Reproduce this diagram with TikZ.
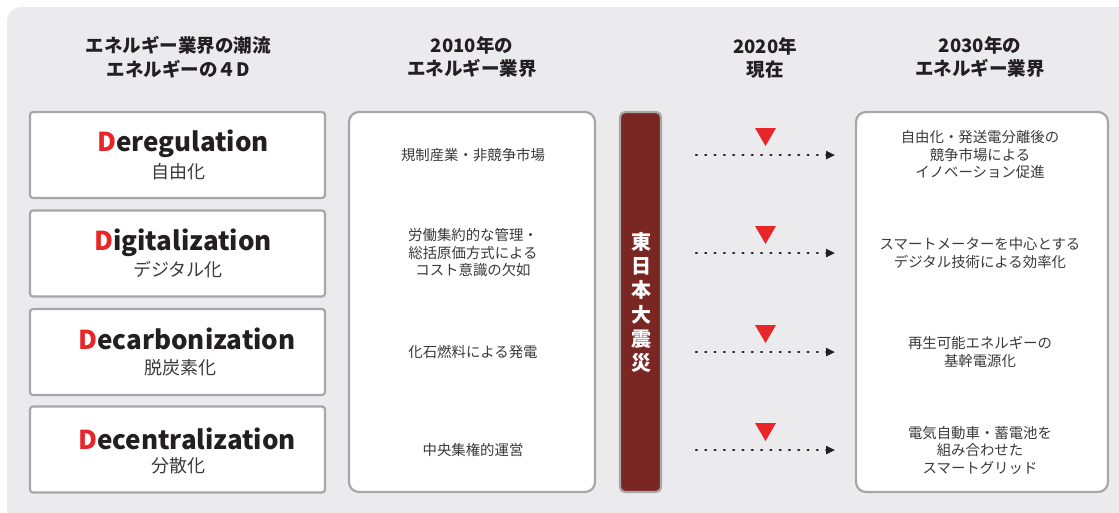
\documentclass[tikz,border=0pt]{standalone}
\usepackage{fontspec}
\setmainfont{Noto Sans CJK JP}
\usetikzlibrary{arrows.meta}
\definecolor{bgc}{HTML}{EBEBED}
\definecolor{bordc}{HTML}{A7A7A9}
\definecolor{txt}{HTML}{231F20}
\definecolor{subt}{HTML}{3A3A3C}
\definecolor{dred}{HTML}{E8262A}
\definecolor{barc}{HTML}{7A2623}
\begin{document}
\begin{tikzpicture}[x=1pt,y=-1pt,
  dbox/.style={draw=bordc,line width=2.2pt,fill=white,rounded corners=3pt,inner sep=0pt,minimum width=295pt,minimum height=86pt},
  pbox/.style={draw=bordc,line width=2.2pt,fill=white,rounded corners=10pt,inner sep=0pt,minimum height=380pt},
  head/.style={font=\fontsize{18.5}{23.5}\selectfont\bfseries,text=txt,align=center,inner sep=0pt},
  eng/.style={font=\fontsize{26}{30}\selectfont\bfseries,text=txt,inner sep=0pt},
  jsub/.style={font=\fontsize{18}{20}\selectfont,text=subt,inner sep=0pt},
  body/.style={font=\fontsize{14.4}{17.5}\selectfont,text=subt,align=center,inner sep=0pt},
  dotarrow/.style={draw=txt,line width=2.4pt,dash pattern=on 0.9pt off 8.4pt,line cap=round,-{Triangle[length=9pt,width=8pt]}},
  tri/.style={fill=dred}
]
\useasboundingbox (0,0) rectangle (1119,512);
\fill[bgc,rounded corners=14pt] (7,7) rectangle (1150,540);

% headers
\node[head] (h1) at (178,57) {エネルギー業界の潮流\\エネルギーの４D};
\node[head] (h2) at (472,57) {2010年の\\エネルギー業界};
\node[head] (h3) at (765,58) {2020年\\現在};
\node[head] (h4) at (980,57) {2030年の\\エネルギー業界};

% left boxes
\node[dbox] (d1) at (177.5,155) {};
\node[dbox] (d2) at (177.5,253.5) {};
\node[dbox] (d3) at (177.5,352) {};
\node[dbox] (d4) at (177.5,449.5) {};
\node[eng] (e1) at (183,144) {\textcolor{dred}{D}eregulation};
\node[jsub] (j1) at (178,172) {自由化};
\node[eng] (e2) at (183,243) {\textcolor{dred}{D}igitalization};
\node[jsub] (j2) at (178,270) {デジタル化};
\node[eng] (e3) at (187,339) {\textcolor{dred}{D}ecarbonization};
\node[jsub] (j3) at (180,368) {脱炭素化};
\node[eng] (e4) at (187,439) {\textcolor{dred}{D}ecentralization};
\node[jsub] (j4) at (178,466) {分散化};

% middle box
\node[pbox,minimum width=246pt] (m) at (472,302) {};
\node[body] (m1) at (473,155) {規制産業・非競争市場};
\node[body] (m2) at (473,253) {労働集約的な管理・\\総括原価方式による\\コスト意識の欠如};
\node[body] (m3) at (473,352) {化石燃料による発電};
\node[body] (m4) at (473,450) {中央集権的運営};

% bar
\node[draw=bordc,line width=2.2pt,fill=barc,rounded corners=5pt,inner sep=0pt,minimum width=41pt,minimum height=380pt] (bar) at (640.5,302) {};
\node[font=\fontsize{20}{24.3}\selectfont\bfseries,text=white,align=center,inner sep=0pt] (bt) at (641,302.5) {東\\日\\本\\大\\震\\災};

% right box
\node[pbox,minimum width=252pt] (r) at (982,302) {};
\node[body] (r1) at (980,155) {自由化・発送電分離後の\\競争市場による\\イノベーション促進};
\node[body] (r2) at (980,253) {スマートメーターを中心とする\\デジタル技術による効率化};
\node[body] (r3) at (980,352) {再生可能エネルギーの\\基幹電源化};
\node[body] (r4) at (980,450) {電気自動車・蓄電池を\\組み合わせた\\スマートグリッド};

% triangles and arrows
\foreach \i/\y in {1/155,2/253,3/352,4/450}{
  \fill[tri] (755,\y-27) -- (776,\y-27) -- (765.5,\y-9) -- cycle;
  \coordinate (s\i) at (696,\y);
  \coordinate (t\i) at (835,\y);
  \draw[dotarrow] (s\i) -- (t\i);
}
\end{tikzpicture}
\end{document}
